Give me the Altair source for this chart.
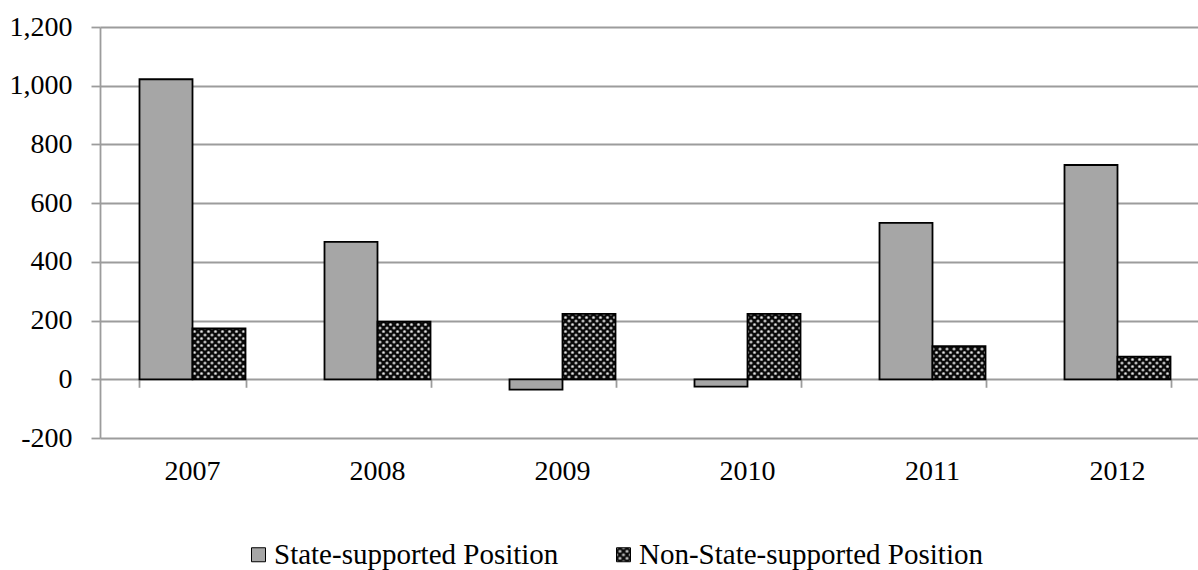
import altair as alt
import pandas as pd
import jinja2
import altair.utils.html as alt_html

# ---- data -------------------------------------------------------------
years = ["2007", "2008", "2009", "2010", "2011", "2012"]
series = ["State-supported Position", "Non-State-supported Position"]
state_supported = [1022, 468, -35, -25, 533, 730]
non_state_supported = [173, 196, 223, 223, 113, 77]

rows = []
for i, yr in enumerate(years):
    rows.append({"year": yr, "series": series[0], "value": state_supported[i]})
    rows.append({"year": yr, "series": series[1], "value": non_state_supported[i]})
df = pd.DataFrame(rows)
zero_df = pd.DataFrame({"year": years, "zero": [0] * len(years)})

# ---- page template with a dotted fill pattern for the second series ----
PAGE = jinja2.Template("""<!DOCTYPE html>
<html>
<head>
<meta charset="utf-8">
<style>body { margin: 0; }</style>
<script type="text/javascript" src="{{ base_url }}/vega@{{ vega_version }}"></script>
<script type="text/javascript" src="{{ base_url }}/vega-lite@{{ vegalite_version }}"></script>
<script type="text/javascript" src="{{ base_url }}/vega-embed@{{ vegaembed_version }}"></script>
</head>
<body>
<svg width="0" height="0" style="position:absolute">
  <defs>
    <pattern id="dots" width="7" height="7" patternUnits="userSpaceOnUse">
      <rect width="7" height="7" fill="#0a0a0a"/>
      <circle cx="0" cy="0" r="1.6" fill="#a8a8a8"/>
      <circle cx="7" cy="0" r="1.6" fill="#a8a8a8"/>
      <circle cx="0" cy="7" r="1.6" fill="#a8a8a8"/>
      <circle cx="7" cy="7" r="1.6" fill="#a8a8a8"/>
      <circle cx="3.5" cy="3.5" r="1.6" fill="#a8a8a8"/>
      <circle cx="3.5" cy="3.5" r="0.6" fill="#f0f0f0"/>
      <circle cx="0" cy="0" r="0.6" fill="#f0f0f0"/>
      <circle cx="7" cy="0" r="0.6" fill="#f0f0f0"/>
      <circle cx="0" cy="7" r="0.6" fill="#f0f0f0"/>
      <circle cx="7" cy="7" r="0.6" fill="#f0f0f0"/>
    </pattern>
  </defs>
</svg>
<div id="{{ output_div }}"></div>
<script type="text/javascript">
vegaEmbed("#{{ output_div }}", {{ spec }}, {{ embed_options }}).catch(console.error);
</script>
</body>
</html>
""")
alt_html.TEMPLATES["standard"] = PAGE

# ---- styling ------------------------------------------------------------
FONT = "Liberation Serif"
GRID = "#9c9c9c"
W, H = 1098, 411
X_RANGE = [0, 1110]
Y_MIN, Y_MAX = -200, 1200
zero_offset = -(H - H * Y_MAX / (Y_MAX - Y_MIN))

y_axis = alt.Axis(
    title=None,
    values=list(range(Y_MIN, Y_MAX + 1, 200)),
    labelExpr="datum.value < 0 ? '-' + format(-datum.value, ',') : format(datum.value, ',')",
    grid=True,
    gridColor=GRID,
    gridWidth=1.8,
    domainColor=GRID,
    domainWidth=1.8,
    tickColor=GRID,
    tickWidth=1.8,
    tickSize=9,
    labelPadding=19,
    labelFont=FONT,
)
y_scale = alt.Scale(domain=[Y_MIN, Y_MAX], nice=False, zero=False)

bars = alt.Chart(df).mark_bar(stroke="black", strokeWidth=1.8).encode(
    x=alt.X(
        "year:N",
        sort=years,
        scale=alt.Scale(range=X_RANGE, paddingInner=0.427, paddingOuter=0.2135),
        axis=alt.Axis(
            title=None,
            labelAngle=0,
            domain=False,
            ticks=False,
            grid=False,
            labelPadding=19,
            labelFont=FONT,
        ),
    ),
    xOffset=alt.XOffset("series:N", sort=series),
    y=alt.Y("value:Q", scale=y_scale, axis=y_axis),
    fill=alt.Fill(
        "series:N",
        sort=series,
        scale=alt.Scale(domain=series, range=["#a6a6a6", "url(#dots)"]),
        legend=alt.Legend(
            title=None,
            orient="none",
            legendX=144,
            legendY=513,
            direction="horizontal",
            symbolType="square",
            symbolSize=196,
            symbolStrokeColor="black",
            symbolStrokeWidth=1,
            symbolOpacity=1,
            labelFont=FONT,
            labelFontSize=29,
            labelOffset=1,
            columnPadding=50,
            padding=0,
        ),
    ),
)

# category separators hanging below the zero line
zero_ticks = alt.Chart(zero_df).mark_point(opacity=0).encode(
    x=alt.X(
        "year:N",
        sort=years,
        axis=alt.Axis(
            title=None,
            orient="bottom",
            offset=zero_offset,
            domain=False,
            labels=False,
            grid=False,
            ticks=True,
            tickBand="extent",
            tickSize=8,
            tickColor=GRID,
            tickWidth=1.8,
        ),
    ),
    y=alt.Y("zero:Q", scale=y_scale, axis=y_axis),
)

chart = (
    alt.layer(bars, zero_ticks)
    .resolve_axis(x="independent")
    .properties(
        width=W,
        height=H,
        padding={"left": 100, "top": 27, "right": 0, "bottom": 132},
        autosize=alt.AutoSizeParams(type="none"),
        background="white",
    )
    .configure(font=FONT)
    .configure_view(stroke=None)
    .configure_axis(labelFont=FONT, labelFontSize=28, labelColor="black")
    .configure_legend(labelFont=FONT, labelColor="black", labelLimit=0)
)

chart.save("out.html", embed_options={"renderer": "svg", "actions": False})
